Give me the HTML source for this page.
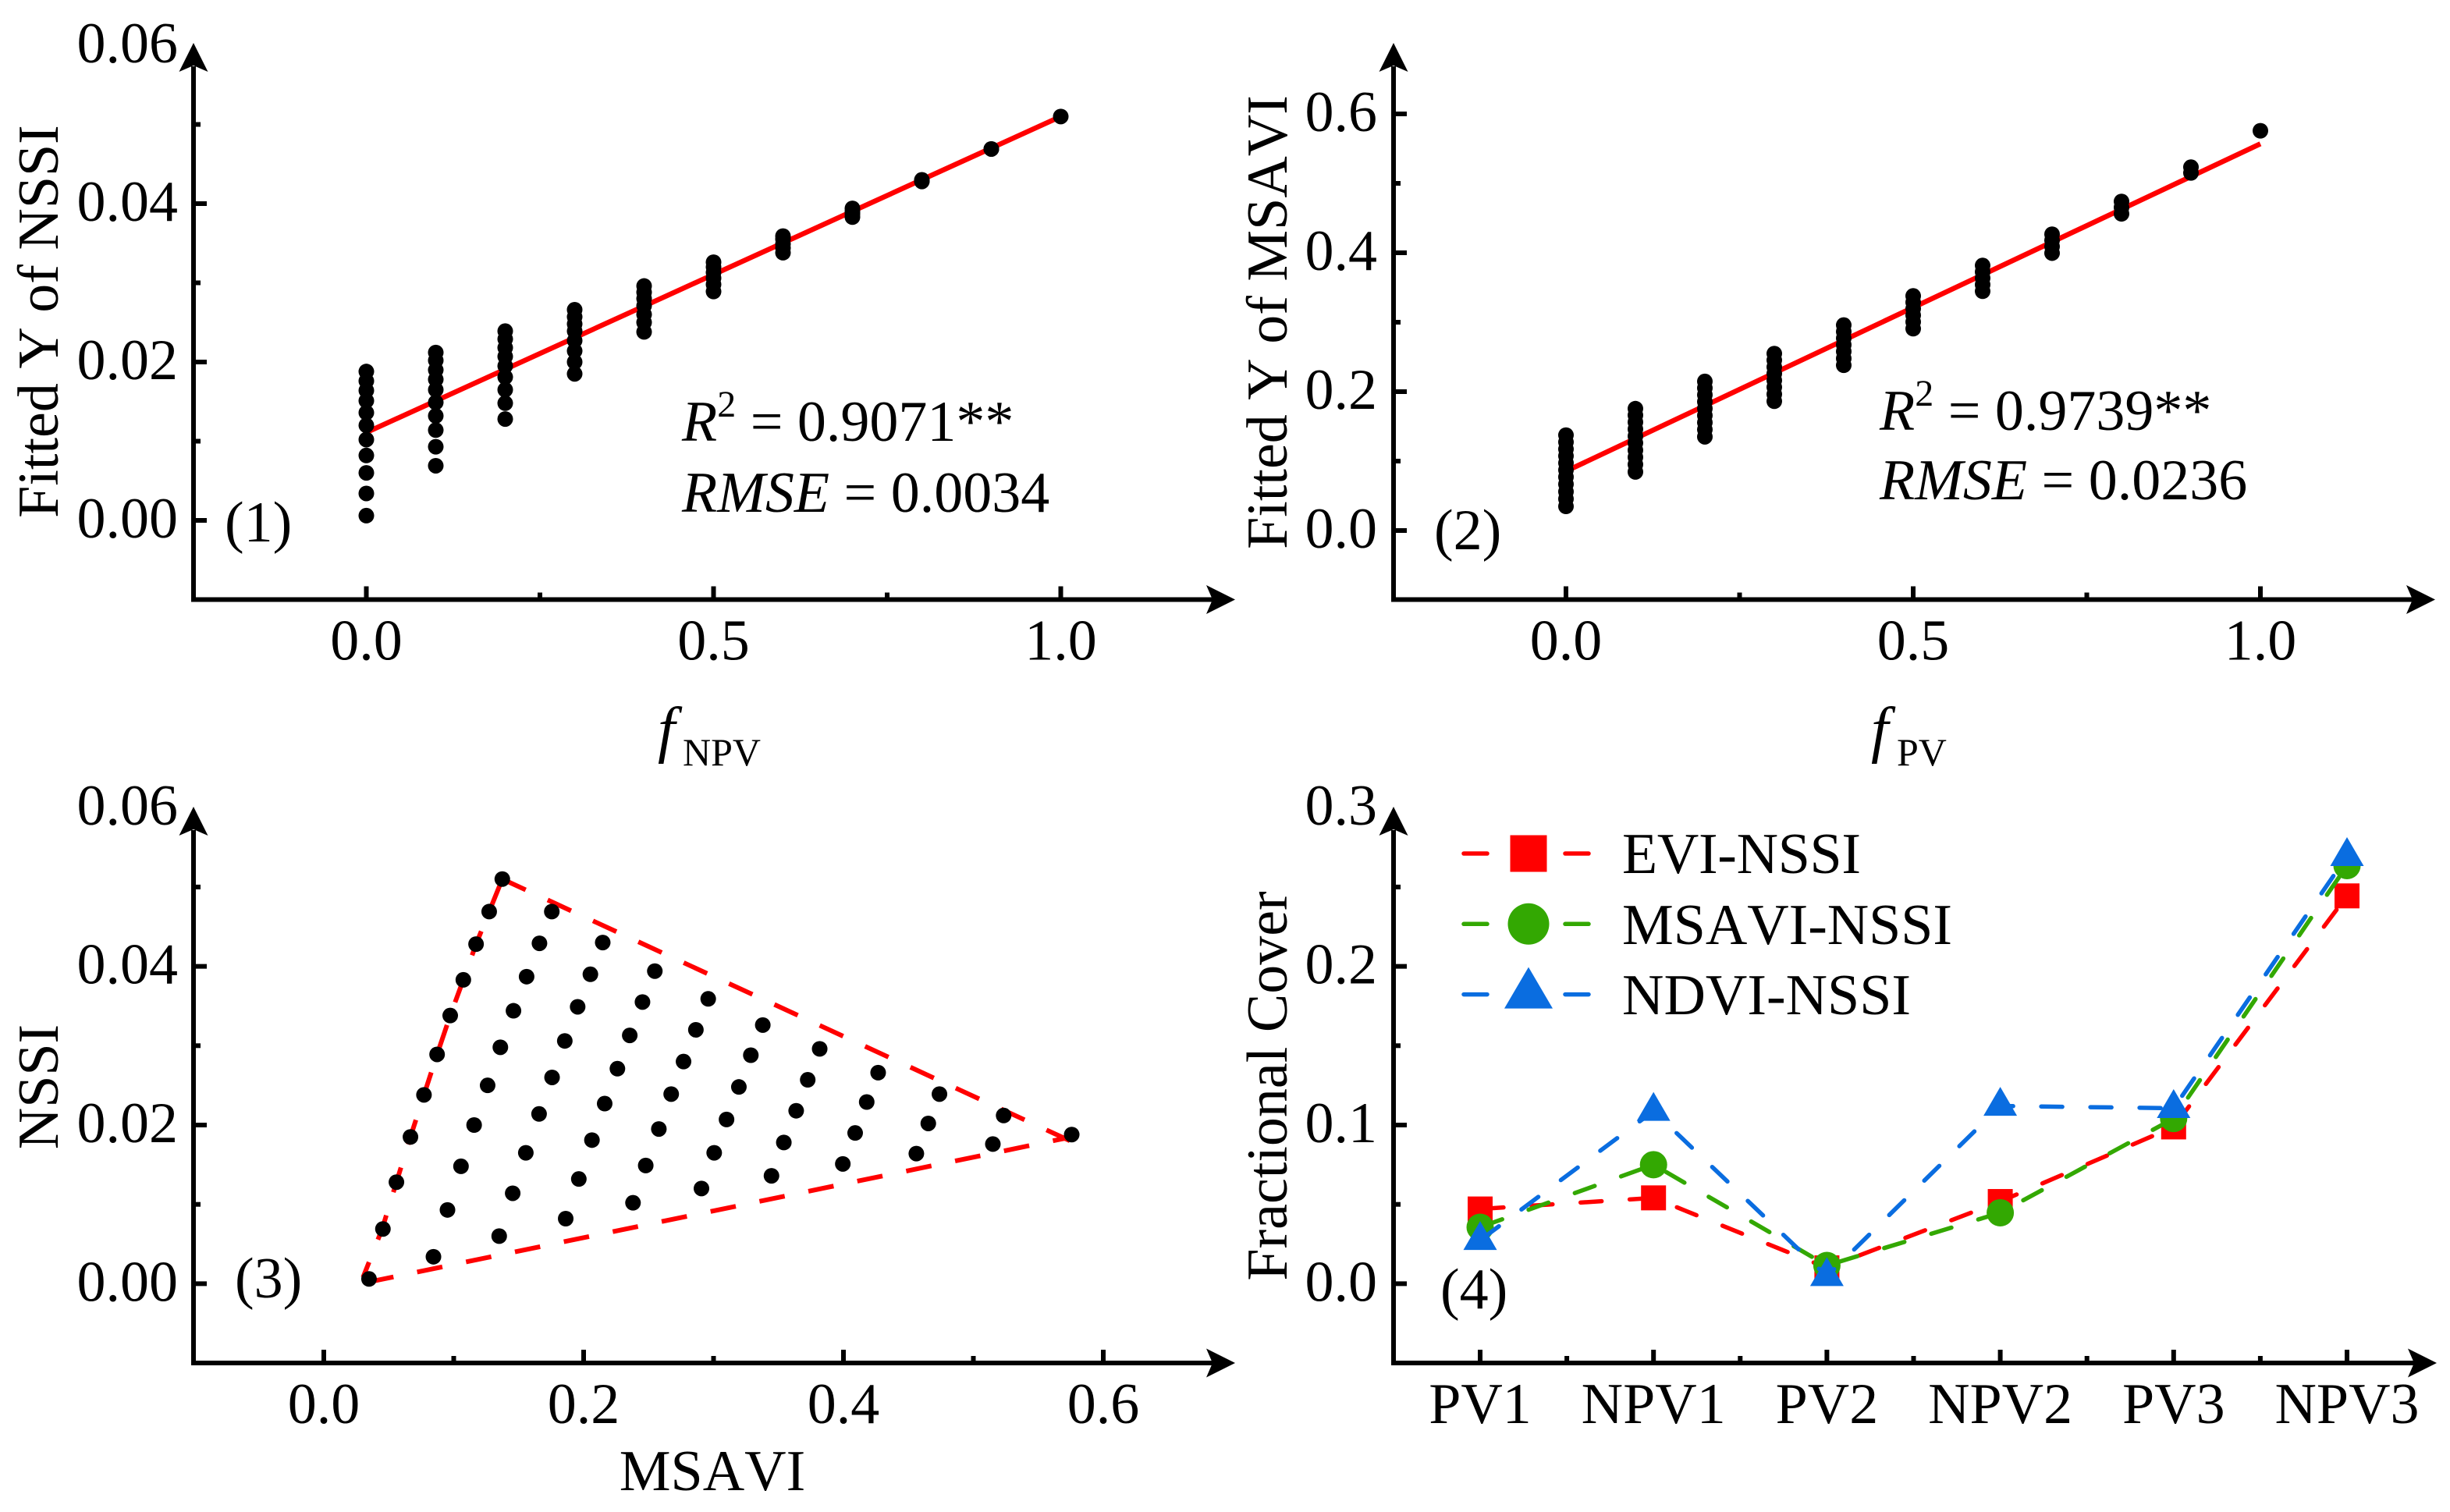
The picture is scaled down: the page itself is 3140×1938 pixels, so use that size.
<!DOCTYPE html>
<html lang="en">
<head>
<meta charset="utf-8">
<title>Fitted indices and fractional cover</title>
<style>
html,body{margin:0;padding:0;background:#fff;}
svg{display:block;font-family:"Liberation Serif",serif;fill:#000;}
text{font-size:74px;font-kerning:none;}
</style>
</head>
<body>
<svg id="figure" xmlns="http://www.w3.org/2000/svg" width="3140" height="1938" viewBox="0 0 3140 1938">
<rect x="0" y="0" width="3140" height="1938" fill="#fff"/>

<g id="panel1">
  <text transform="translate(74,412) rotate(-90)" text-anchor="middle">Fitted Y of NSSI</text>
  <text x="843" y="962" font-style="italic" style="font-size:80px">f<tspan x="875" y="981" font-style="normal" style="font-size:50px">NPV</tspan></text>
  <text x="288" y="694">(1)</text>
  <text x="874" y="565"><tspan font-style="italic">R</tspan><tspan style="font-size:48px" dy="-31">2</tspan><tspan dy="31"> = 0.9071**</tspan></text>
  <text x="874" y="656"><tspan font-style="italic">RMSE</tspan> = 0.0034</text>
</g>

<g id="panel2">
  <text transform="translate(1649,413) rotate(-90)" text-anchor="middle">Fitted Y of MSAVI</text>
  <text x="2398" y="962" font-style="italic" style="font-size:80px">f<tspan x="2431" y="981" font-style="normal" style="font-size:50px">PV</tspan></text>
  <text x="1838" y="704">(2)</text>
  <text x="2409" y="551"><tspan font-style="italic">R</tspan><tspan style="font-size:48px" dy="-31">2</tspan><tspan dy="31"> = 0.9739**</tspan></text>
  <text x="2409" y="640"><tspan font-style="italic">RMSE</tspan> = 0.0236</text>
</g>

<g id="panel3">
  <text transform="translate(74,1393) rotate(-90)" text-anchor="middle">NSSI</text>
  <text x="913" y="1910" text-anchor="middle">MSAVI</text>
  <text x="301" y="1663">(3)</text>
</g>

<g id="panel4">
  <text transform="translate(1649,1392) rotate(-90)" text-anchor="middle">Fractional Cover</text>
  <text x="1846" y="1677">(4)</text>
  <g id="legend">
    <text x="2079" y="1119" textLength="306" lengthAdjust="spacing">EVI-NSSI</text>
    <text x="2079" y="1210" textLength="423" lengthAdjust="spacing">MSAVI-NSSI</text>
    <text x="2079" y="1300" textLength="370" lengthAdjust="spacing">NDVI-NSSI</text>
  </g>
</g>
</svg>

<script>
/* Shared simplex sample: one entry per mixture point */
const fPV = [
  0,0,0,0,0,0,0,0,0,0,0,
  0.1,0.1,0.1,0.1,0.1,0.1,0.1,0.1,0.1,0.1,
  0.2,0.2,0.2,0.2,0.2,0.2,0.2,0.2,0.2,
  0.3,0.3,0.3,0.3,0.3,0.3,0.3,0.3,
  0.4,0.4,0.4,0.4,0.4,0.4,0.4,
  0.5,0.5,0.5,0.5,0.5,0.5,
  0.6,0.6,0.6,0.6,0.6,
  0.7,0.7,0.7,0.7,
  0.8,0.8,0.8,
  0.9,0.9,
  1.0
];
const fNPV = [
  0,0.1,0.2,0.3,0.4,0.5,0.6,0.7,0.8,0.9,1.0,
  0,0.1,0.2,0.3,0.4,0.5,0.6,0.7,0.8,0.9,
  0,0.1,0.2,0.3,0.4,0.5,0.6,0.7,0.8,
  0,0.1,0.2,0.3,0.4,0.5,0.6,0.7,
  0,0.1,0.2,0.3,0.4,0.5,0.6,
  0,0.1,0.2,0.3,0.4,0.5,
  0,0.1,0.2,0.3,0.4,
  0,0.1,0.2,0.3,
  0,0.1,0.2,
  0,0.1,
  0
];
const msavi = [
  0.0348,0.0455,0.0559,0.0667,0.0771,0.0872,0.0973,0.1074,0.1172,0.1273,0.1374,
  0.0844,0.0952,0.1056,0.1157,0.1261,0.1359,0.1460,0.1561,0.1660,0.1755,
  0.1350,0.1454,0.1555,0.1657,0.1757,0.1855,0.1954,0.2052,0.2147,
  0.1862,0.1963,0.2064,0.2162,0.2260,0.2355,0.2453,0.2548,
  0.2380,0.2478,0.2579,0.2674,0.2769,0.2864,0.2959,
  0.2907,0.3005,0.3100,0.3195,0.3287,0.3379,
  0.3446,0.3541,0.3636,0.3725,0.3817,
  0.3995,0.4090,0.4179,0.4267,
  0.4561,0.4653,0.4739,
  0.5150,0.5233,
  0.5757
];
const nssi = [
  0.0006,0.0069,0.0128,0.0185,0.0238,0.0289,0.0338,0.0383,0.0428,0.0469,0.0510,
  0.0034,0.0093,0.0148,0.0200,0.0250,0.0298,0.0344,0.0387,0.0429,0.0469,
  0.0060,0.0114,0.0165,0.0214,0.0260,0.0306,0.0349,0.0390,0.0430,
  0.0082,0.0132,0.0181,0.0227,0.0271,0.0313,0.0355,0.0394,
  0.0102,0.0149,0.0195,0.0239,0.0280,0.0320,0.0359,
  0.0120,0.0165,0.0207,0.0248,0.0288,0.0326,
  0.0136,0.0178,0.0218,0.0257,0.0296,
  0.0151,0.0190,0.0229,0.0266,
  0.0164,0.0202,0.0239,
  0.0176,0.0212,
  0.0188
];

/* Panel 1 */
const p1FitX = [0, 1];
const p1FitY = [0.0111, 0.0510];
const p1XMajor = [0, 0.5, 1];
const p1XLabels = ['0.0', '0.5', '1.0'];
const p1XMinor = [0.25, 0.75];
const p1YMajor = [0, 0.02, 0.04, 0.06];
const p1YLabels = ['0.00', '0.02', '0.04', '0.06'];
const p1YMinor = [0.01, 0.03, 0.05];

/* Panel 2 */
const p2FitX = [0, 1];
const p2FitY = [0.0854, 0.5570];
const p2XMajor = [0, 0.5, 1];
const p2XLabels = ['0.0', '0.5', '1.0'];
const p2XMinor = [0.25, 0.75];
const p2YMajor = [0, 0.2, 0.4, 0.6];
const p2YLabels = ['0.0', '0.2', '0.4', '0.6'];
const p2YMinor = [0.1, 0.3, 0.5];

/* Panel 3 */
const p3LeftEdgeX = [0.0302, 0.0449, 0.0559, 0.0667, 0.0771, 0.0872, 0.0973, 0.1074, 0.1172, 0.1273, 0.1374];
const p3LeftEdgeY = [0.0008, 0.0069, 0.0128, 0.0185, 0.0238, 0.0289, 0.0338, 0.0383, 0.0428, 0.0469, 0.0510];
const p3TopEdgeX = [0.1374, 0.5759];
const p3TopEdgeY = [0.0510, 0.0179];
const p3BottomEdgeX = [0.0342, 0.5757];
const p3BottomEdgeY = [0.0002, 0.0185];
const p3XMajor = [0, 0.2, 0.4, 0.6];
const p3XLabels = ['0.0', '0.2', '0.4', '0.6'];
const p3XMinor = [0.1, 0.3, 0.5];
const p3YMajor = [0, 0.02, 0.04, 0.06];
const p3YLabels = ['0.00', '0.02', '0.04', '0.06'];
const p3YMinor = [0.01, 0.03, 0.05];

/* Panel 4 */
const categories = ['PV1', 'NPV1', 'PV2', 'NPV2', 'PV3', 'NPV3'];
const eviNssi = [0.0471, 0.0541, 0.0100, 0.0518, 0.0988, 0.2444];
const msaviNssi = [0.0356, 0.0750, 0.0115, 0.0447, 0.1041, 0.2635];
const ndviNssi = [0.0274, 0.1088, 0.0047, 0.1120, 0.1106, 0.2694];
const p4XMinor = [0.5, 1.5, 2.5, 3.5, 4.5];
const p4YMajor = [0, 0.1, 0.2, 0.3];
const p4YLabels = ['0.0', '0.1', '0.2', '0.3'];
const p4YMinor = [0.05, 0.15, 0.25];

const SVG_NS = 'http://www.w3.org/2000/svg';
const RED = '#ff0000';
const GREEN = '#33a802';
const BLUE = '#0a6de0';

function add(parent, tag, attrs, name, text) {
  const el = document.createElementNS(SVG_NS, tag);
  for (const k in attrs) el.setAttribute(k, attrs[k]);
  
  
  if (text !== undefined) el.textContent = text;
  parent.appendChild(el);
  return el;
}

function drawAxes(g, a) {
  const w = 6;
  add(g, 'line', {x1: a.left, y1: a.bottom + 3, x2: a.left, y2: a.top + 30, stroke: '#000', 'stroke-width': w}, 'y-axis-line');
  add(g, 'line', {x1: a.left - 3, y1: a.bottom, x2: a.right - 25, y2: a.bottom, stroke: '#000', 'stroke-width': w}, 'x-axis-line');
  const ytip = a.top;
  const xtip = a.right;
  add(g, 'path', {d: 'M' + a.left + ' ' + ytip + ' L' + (a.left - 18.5) + ' ' + (ytip + 37) + ' L' + a.left + ' ' + (ytip + 29) + ' L' + (a.left + 18.5) + ' ' + (ytip + 37) + 'Z', fill: '#000'}, 'y-axis-arrow');
  add(g, 'path', {d: 'M' + xtip + ' ' + a.bottom + ' L' + (xtip - 37) + ' ' + (a.bottom - 18.5) + ' L' + (xtip - 29) + ' ' + a.bottom + ' L' + (xtip - 37) + ' ' + (a.bottom + 18.5) + 'Z', fill: '#000'}, 'x-axis-arrow');
  a.yMajor.forEach(function (v, i) {
    const y = a.y(v);
    if (y > a.top + 40) {
      add(g, 'line', {x1: a.left, y1: y, x2: a.left + 17, y2: y, stroke: '#000', 'stroke-width': 6}, 'y-tick-major');
    }
    add(g, 'text', {x: a.yLabelRight, y: y + 22, 'text-anchor': 'end'}, 'y-tick-label', a.yLabels[i]);
  });
  a.yMinor.forEach(function (v) {
    const y = a.y(v);
    add(g, 'line', {x1: a.left, y1: y, x2: a.left + 9, y2: y, stroke: '#000', 'stroke-width': 6}, 'y-tick-minor');
  });
  a.xMajor.forEach(function (v, i) {
    const x = a.x(v);
    add(g, 'line', {x1: x, y1: a.bottom, x2: x, y2: a.bottom - 17, stroke: '#000', 'stroke-width': 6}, 'x-tick-major');
    add(g, 'text', {x: x, y: a.bottom + 77, 'text-anchor': 'middle'}, 'x-tick-label', a.xLabels[i]);
  });
  a.xMinor.forEach(function (v) {
    const x = a.x(v);
    add(g, 'line', {x1: x, y1: a.bottom, x2: x, y2: a.bottom - 9, stroke: '#000', 'stroke-width': 6}, 'x-tick-minor');
  });
}

function drawDots(g, xs, ys, xf, yf) {
  xs.forEach(function (v, i) {
    add(g, 'circle', {cx: xf(v), cy: yf(ys[i]), r: 10, fill: '#000'}, 'data-point');
  });
}

function drawLine(g, xs, ys, xf, yf, attrs, name) {
  const pts = xs.map(function (v, i) { return xf(v) + ',' + yf(ys[i]); }).join(' ');
  const base = {points: pts, fill: 'none'};
  for (const k in attrs) base[k] = attrs[k];
  return add(g, 'polyline', base, name);
}

/* Panel 1 */
const p1x = function (v) { return 469.5 + 890 * v; };
const p1y = function (v) { return 667 - 10150 * v; };
const g1 = document.getElementById('panel1');
drawAxes(g1, {left: 248, top: 55, bottom: 768.5, right: 1583, x: p1x, y: p1y, xMajor: p1XMajor, xLabels: p1XLabels, xMinor: p1XMinor, yMajor: p1YMajor, yLabels: p1YLabels, yMinor: p1YMinor, yLabelRight: 228});
drawLine(g1, p1FitX, p1FitY, p1x, p1y, {stroke: RED, 'stroke-width': 6.5}, 'fit-line');
drawDots(g1, fNPV, nssi, p1x, p1y);

/* Panel 2 */
const p2x = function (v) { return 2007 + 890 * v; };
const p2y = function (v) { return 680 - 890 * v; };
const g2 = document.getElementById('panel2');
drawAxes(g2, {left: 1786, top: 55, bottom: 768.5, right: 3121, x: p2x, y: p2y, xMajor: p2XMajor, xLabels: p2XLabels, xMinor: p2XMinor, yMajor: p2YMajor, yLabels: p2YLabels, yMinor: p2YMinor, yLabelRight: 1765});
drawLine(g2, p2FitX, p2FitY, p2x, p2y, {stroke: RED, 'stroke-width': 6.5}, 'fit-line');
drawDots(g2, fPV, msavi, p2x, p2y);

/* Panel 3 */
const p3x = function (v) { return 415 + 1665 * v; };
const p3y = function (v) { return 1645.4 - 10170 * v; };
const g3 = document.getElementById('panel3');
drawAxes(g3, {left: 248, top: 1034, bottom: 1747, right: 1583, x: p3x, y: p3y, xMajor: p3XMajor, xLabels: p3XLabels, xMinor: p3XMinor, yMajor: p3YMajor, yLabels: p3YLabels, yMinor: p3YMinor, yLabelRight: 228});
const triStyle = {stroke: RED, 'stroke-width': 6, 'stroke-dasharray': '33 31'};
drawLine(g3, p3LeftEdgeX, p3LeftEdgeY, p3x, p3y, {stroke: RED, 'stroke-width': 6, 'stroke-dasharray': '33 31', 'stroke-dashoffset': 12}, 'triangle-edge-left');
drawLine(g3, p3TopEdgeX, p3TopEdgeY, p3x, p3y, triStyle, 'triangle-edge-top');
drawLine(g3, p3BottomEdgeX, p3BottomEdgeY, p3x, p3y, triStyle, 'triangle-edge-bottom');
drawDots(g3, msavi, nssi, p3x, p3y);

/* Panel 4 */
const p4x = function (i) { return 1897 + 222.2 * i; };
const p4y = function (v) { return 1645.4 - 2034 * v; };
const g4 = document.getElementById('panel4');
const categoryIndex = categories.map(function (c, i) { return i; });
drawAxes(g4, {left: 1786, top: 1034, bottom: 1747, right: 3123, x: p4x, y: p4y, xMajor: categoryIndex, xLabels: categories, xMinor: p4XMinor, yMajor: p4YMajor, yLabels: p4YLabels, yMinor: p4YMinor, yLabelRight: 1765});

function squareMark(g, cx, cy, s, color, name) {
  add(g, 'rect', {x: cx - s / 2, y: cy - s / 2, width: s, height: s, fill: color}, name);
}
function circleMark(g, cx, cy, r, color, name) {
  add(g, 'circle', {cx: cx, cy: cy, r: r, fill: color}, name);
}
function triangleMark(g, cx, cy, w, up, down, color, name) {
  add(g, 'polygon', {points: cx + ',' + (cy - up) + ' ' + (cx - w / 2) + ',' + (cy + down) + ' ' + (cx + w / 2) + ',' + (cy + down), fill: color}, name);
}
function drawSeries(values, color, marker, name) {
  drawLine(g4, categoryIndex, values, p4x, p4y, {stroke: color, 'stroke-width': 5.5, 'stroke-linecap': 'round', 'stroke-dasharray': '27 36', 'stroke-dashoffset': -3}, name + '-line');
  values.forEach(function (v, i) {
    marker(g4, p4x(i), p4y(v), name + '-marker-' + categories[i].toLowerCase());
  });
}
drawSeries(eviNssi, RED, function (g, x, y, n) { squareMark(g, x, y, 32, RED, n); }, 'evi-nssi');
drawSeries(msaviNssi, GREEN, function (g, x, y, n) { circleMark(g, x, y, 17.5, GREEN, n); }, 'msavi-nssi');
drawSeries(ndviNssi, BLUE, function (g, x, y, n) { triangleMark(g, x, y, 43, 24.5, 12.5, BLUE, n); }, 'ndvi-nssi');

/* Legend */
const legend = document.getElementById('legend');
const legendRow = function (idx) { return 1094 + 90.3 * idx; };
const legendColors = [RED, GREEN, BLUE];
const legendNames = ['evi-nssi', 'msavi-nssi', 'ndvi-nssi'];
legendColors.forEach(function (c, i) {
  const y = legendRow(i);
  add(legend, 'line', {x1: 1876, y1: y, x2: 1906, y2: y, stroke: c, 'stroke-width': 5.5, 'stroke-linecap': 'round'}, 'legend-dash-' + legendNames[i]);
  add(legend, 'line', {x1: 2006, y1: y, x2: 2036, y2: y, stroke: c, 'stroke-width': 5.5, 'stroke-linecap': 'round'}, 'legend-dash-' + legendNames[i]);
});
squareMark(legend, 1959, legendRow(0), 47, RED, 'legend-marker-evi-nssi');
circleMark(legend, 1959, legendRow(1), 26.5, GREEN, 'legend-marker-msavi-nssi');
triangleMark(legend, 1959, legendRow(2), 62, 35, 18, BLUE, 'legend-marker-ndvi-nssi');
</script>
</body>
</html>
